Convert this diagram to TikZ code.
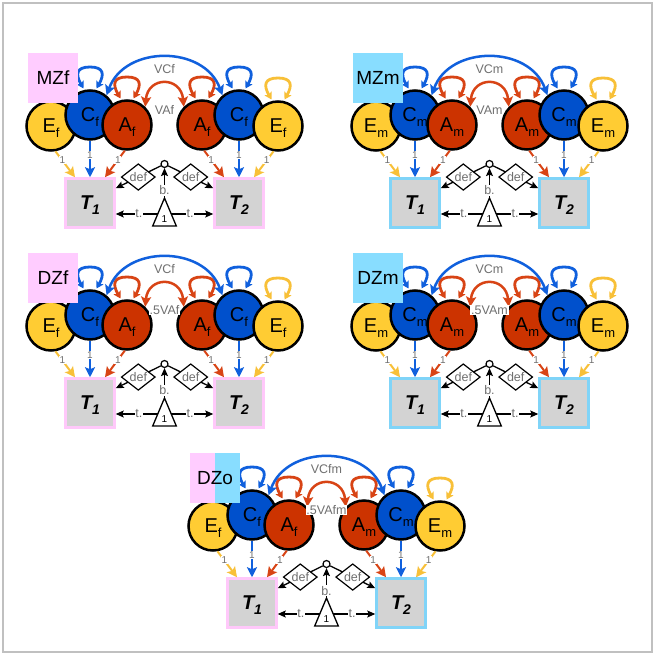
\documentclass[tikz,border=0pt]{standalone}
\usepackage{fontspec}
\setmainfont{Liberation Sans}
\usetikzlibrary{shapes.geometric,arrows.meta,calc}

\definecolor{fillE}{HTML}{FFCC33}
\definecolor{fillC}{HTML}{0050CC}
\definecolor{fillA}{HTML}{CC3300}
\definecolor{lineE}{HTML}{F8C038}
\definecolor{lineC}{HTML}{1060DD}
\definecolor{lineA}{HTML}{D84415}
\definecolor{labgray}{HTML}{707070}
\definecolor{tfill}{HTML}{D3D3D3}
\definecolor{bordf}{HTML}{FFC8FA}
\definecolor{bordm}{HTML}{80D4F8}
\definecolor{boxf}{HTML}{FFCCFF}
\definecolor{boxm}{HTML}{88DDFF}
\definecolor{framegray}{HTML}{C0C0C0}

\newcommand{\fsz}[1]{\fontsize{#1}{#1}\selectfont}
\newcommand{\lv}[2]{#1\smash{\raisebox{-5pt}{\fsz{13}#2}}}
\newcommand{\tv}[1]{\bfseries\itshape T\smash{\raisebox{-5pt}{\fsz{14}#1}}}

\tikzset{
 lat/.style={circle, draw=black, line width=2.5pt, minimum size=49pt, inner sep=0pt, font=\fsz{20}},
 latE/.style={lat, fill=fillE},
 latC/.style={lat, fill=fillC},
 latA/.style={lat, fill=fillA},
 obs/.style={rectangle, fill=tfill, line width=2.5pt, minimum size=49pt, inner sep=0pt, font=\fsz{20}},
 onearrow/.style={line width=2pt, -{Stealth[length=10pt,width=10pt,inset=2pt]}},
 lab1/.style={fill=white, text=labgray, font=\fsz{10}, inner sep=0.6pt},
 lbl/.style={fill=white, text=labgray, font=\fsz{12.5}, inner sep=0.8pt},
 defd/.style={diamond, draw=black, fill=white, line width=1.2pt, minimum width=34pt, minimum height=23pt, inner sep=0pt, text=labgray, font=\fsz{12.5}},
 blk/.style={draw=black, line width=1.3pt, -{Stealth[length=8pt,width=7pt,inset=1.5pt]}},
 selfloop/.style={line width=2.8pt, {Stealth[length=7pt,width=8pt,inset=1.5pt]}-{Stealth[length=7pt,width=8pt,inset=1.5pt]}},
 covarc/.style={line width=2.5pt, {Stealth[length=10pt,width=10pt,inset=2pt]}-{Stealth[length=10pt,width=10pt,inset=2pt]}},
 namebox/.style={rectangle, minimum size=50pt, inner sep=0pt, font=\fsz{19}},
}

\newcommand{\twinpanel}[7]{%
\begin{scope}[shift={(#2,#3)}]
 \node[latE] (#1E1) at (51,126) {\lv{E}{#4}};
 \node[latC] (#1C1) at (90,115) {\lv{C}{#4}};
 \node[latA] (#1A1) at (127,125) {\lv{A}{#4}};
 \node[latA] (#1A2) at (202,125) {\lv{A}{#5}};
 \node[latC] (#1C2) at (239,115) {\lv{C}{#5}};
 \node[latE] (#1E2) at (278,126) {\lv{E}{#5}};
 \node[obs, draw=bord#4] (#1T1) at (90,203) {\tv{1}};
 \node[obs, draw=bord#5] (#1T2) at (239,203) {\tv{2}};
 \foreach \lvname/\lcol in {E1/lineE, C1/lineC, A1/lineA, A2/lineA, C2/lineC, E2/lineE}
   \draw[selfloop, draw=\lcol] ($(#1\lvname)+(-6.5,-26.5)$) .. controls +(-8,-14) and +(-14,0) .. ($(#1\lvname)+(0,-48)$) .. controls +(14,0) and +(8,-14) .. ($(#1\lvname)+(6.5,-26.5)$);
 \draw[covarc, draw=lineC] (#1C1.50) .. controls (125,45) and (204,45) .. (#1C2.130);
 \node[lbl] (#1vc) at (164.5,69) {#6};
 \draw[covarc, draw=lineA] (#1A1.45) .. controls (148,76) and (181,76) .. (#1A2.135);
 \node[lbl] (#1va) at (164.5,110) {#7};
 \draw[onearrow, draw=lineE] (#1E1.-80) -- node[lab1,pos=0.35]{1} ($(#1T1.north)+(-15,0)$);
 \draw[onearrow, draw=lineC] (#1C1.south) -- node[lab1,pos=0.4]{1} (#1T1.north);
 \draw[onearrow, draw=lineA] (#1A1.-95) -- node[lab1,pos=0.35]{1} ($(#1T1.north)+(15,0)$);
 \draw[onearrow, draw=lineA] (#1A2.-85) -- node[lab1,pos=0.35]{1} ($(#1T2.north)+(-15,0)$);
 \draw[onearrow, draw=lineC] (#1C2.south) -- node[lab1,pos=0.4]{1} (#1T2.north);
 \draw[onearrow, draw=lineE] (#1E2.-100) -- node[lab1,pos=0.35]{1} ($(#1T2.north)+(15,0)$);
 \node[circle, draw=black, fill=white, line width=1.2pt, minimum size=7pt, inner sep=0pt] (#1dot) at (164.5,164) {};
 \coordinate (#1apex) at (164.5,198);
 \coordinate (#1bl) at (152.7,226);
 \coordinate (#1br) at (176.3,226);
 \draw[line width=1.3pt, fill=white] (#1apex) -- (#1bl) -- (#1br) -- cycle;
 \node[text=black, font=\fsz{10}] (#1one) at (164.5,219.5) {1};
 \coordinate (#1tl) at (157.8,214);
 \coordinate (#1tr) at (171.2,214);
 \draw[blk] (#1apex) -- node[lbl,pos=0.25]{b.} (#1dot);
 \draw[blk] (#1tl) -- node[lbl,pos=0.45]{t.} (#1T1.east |- #1tl);
 \draw[blk] (#1tr) -- node[lbl,pos=0.45]{t.} (#1T2.west |- #1tr);
 \draw[blk] (#1dot) -- node[defd]{def} ($(#1T1.north east)+(0,11)$);
 \draw[blk] (#1dot) -- node[defd]{def} ($(#1T2.north west)+(0,11)$);
\end{scope}}

\begin{document}
\begin{tikzpicture}[x=1pt, y=-1pt]
 \useasboundingbox (0,0) rectangle (655,655);
 \fill[white] (0,0) rectangle (655,655);
 \draw[framegray, line width=1.2pt] (3,3) rectangle (652,652);
 \twinpanel{mzf}{0}{0}{f}{f}{VCf}{VAf}
 \twinpanel{mzm}{325}{0}{m}{m}{VCm}{VAm}
 \twinpanel{dzf}{0}{200}{f}{f}{VCf}{.5VAf}
 \twinpanel{dzm}{325}{200}{m}{m}{VCm}{.5VAm}
 \twinpanel{dzo}{162}{400}{f}{m}{VCfm}{.5VAfm}
 \node[namebox, fill=boxf] (mzf) at (53,78) {MZf};
 \node[namebox, fill=boxm] (mzm) at (378,78) {MZm};
 \node[namebox, fill=boxf] (dzf) at (53,278) {DZf};
 \node[namebox, fill=boxm] (dzm) at (378,278) {DZm};
 \fill[boxf] (190,453) rectangle (215,503);
 \fill[boxm] (215,453) rectangle (240,503);
 \node[namebox] (dzo) at (215,478) {DZo};
\end{tikzpicture}
\end{document}
